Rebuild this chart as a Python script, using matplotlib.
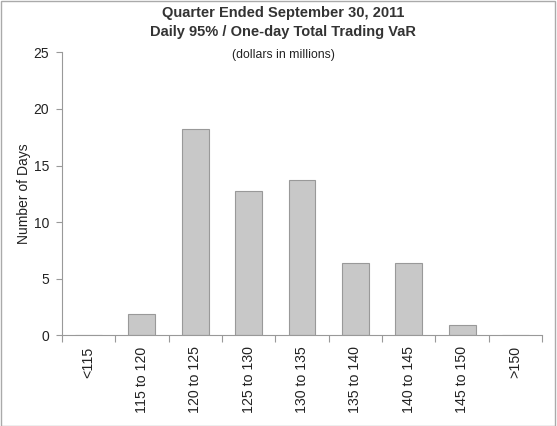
import numpy as np
import matplotlib
matplotlib.use("Agg")
from matplotlib import pyplot as plt
from matplotlib.patches import Rectangle

categories = ["<115", "115 to 120", "120 to 125", "125 to 130", "130 to 135",
              "135 to 140", "140 to 145", "145 to 150", ">150"]
days = [0, 1.85, 18.2, 12.75, 13.7, 6.35, 6.35, 0.9, 0]
y_ticks = [0, 5, 10, 15, 20, 25]

plt.rcParams["font.family"] = ["Liberation Sans", "DejaVu Sans"]

fig = plt.figure(figsize=(5.57, 4.26), dpi=100)
ax = fig.add_axes([0.1108, 0.2129, 0.8628, 0.6643])

x = np.arange(len(categories))
ax.bar(x, days, width=0.5, color="#c8c8c8", edgecolor="#999999", linewidth=0.8)

ax.set_xlim(-0.5, len(categories) - 0.5)
ax.set_ylim(0, 25)
ax.set_yticks(y_ticks)
ax.set_xticks(x)
ax.set_xticklabels(categories, rotation=90, fontsize=10.2, color="#222222")
ax.set_xticks(np.arange(len(categories) + 1) - 0.5, minor=True)
ax.tick_params(axis="x", which="major", length=0, pad=8)
ax.tick_params(axis="x", which="minor", length=5, color="#999999", width=0.8)
ax.tick_params(axis="y", length=4, color="#999999", width=0.8,
               labelsize=10, labelcolor="#222222", pad=5)

for side in ["top", "right"]:
    ax.spines[side].set_visible(False)
for side in ["left", "bottom"]:
    ax.spines[side].set_color("#999999")
    ax.spines[side].set_linewidth(0.8)

ax.set_ylabel("Number of Days", fontsize=10, color="#222222", labelpad=2)

fig.text(0.508, 0.97, "Quarter Ended September 30, 2011", ha="center", va="center",
         fontsize=10.5, fontweight="bold", color="#333333")
fig.text(0.508, 0.925, "Daily 95% / One-day Total Trading VaR", ha="center", va="center",
         fontsize=10.5, fontweight="bold", color="#333333")
fig.text(0.508, 0.872, "(dollars in millions)", ha="center", va="center",
         fontsize=8.8, color="#222222")

fig.patches.append(Rectangle((0.001, 0.001), 0.996, 0.997, transform=fig.transFigure,
                             fill=False, edgecolor="#aaaaaa", linewidth=1))

fig.savefig("out.png", dpi=100)
